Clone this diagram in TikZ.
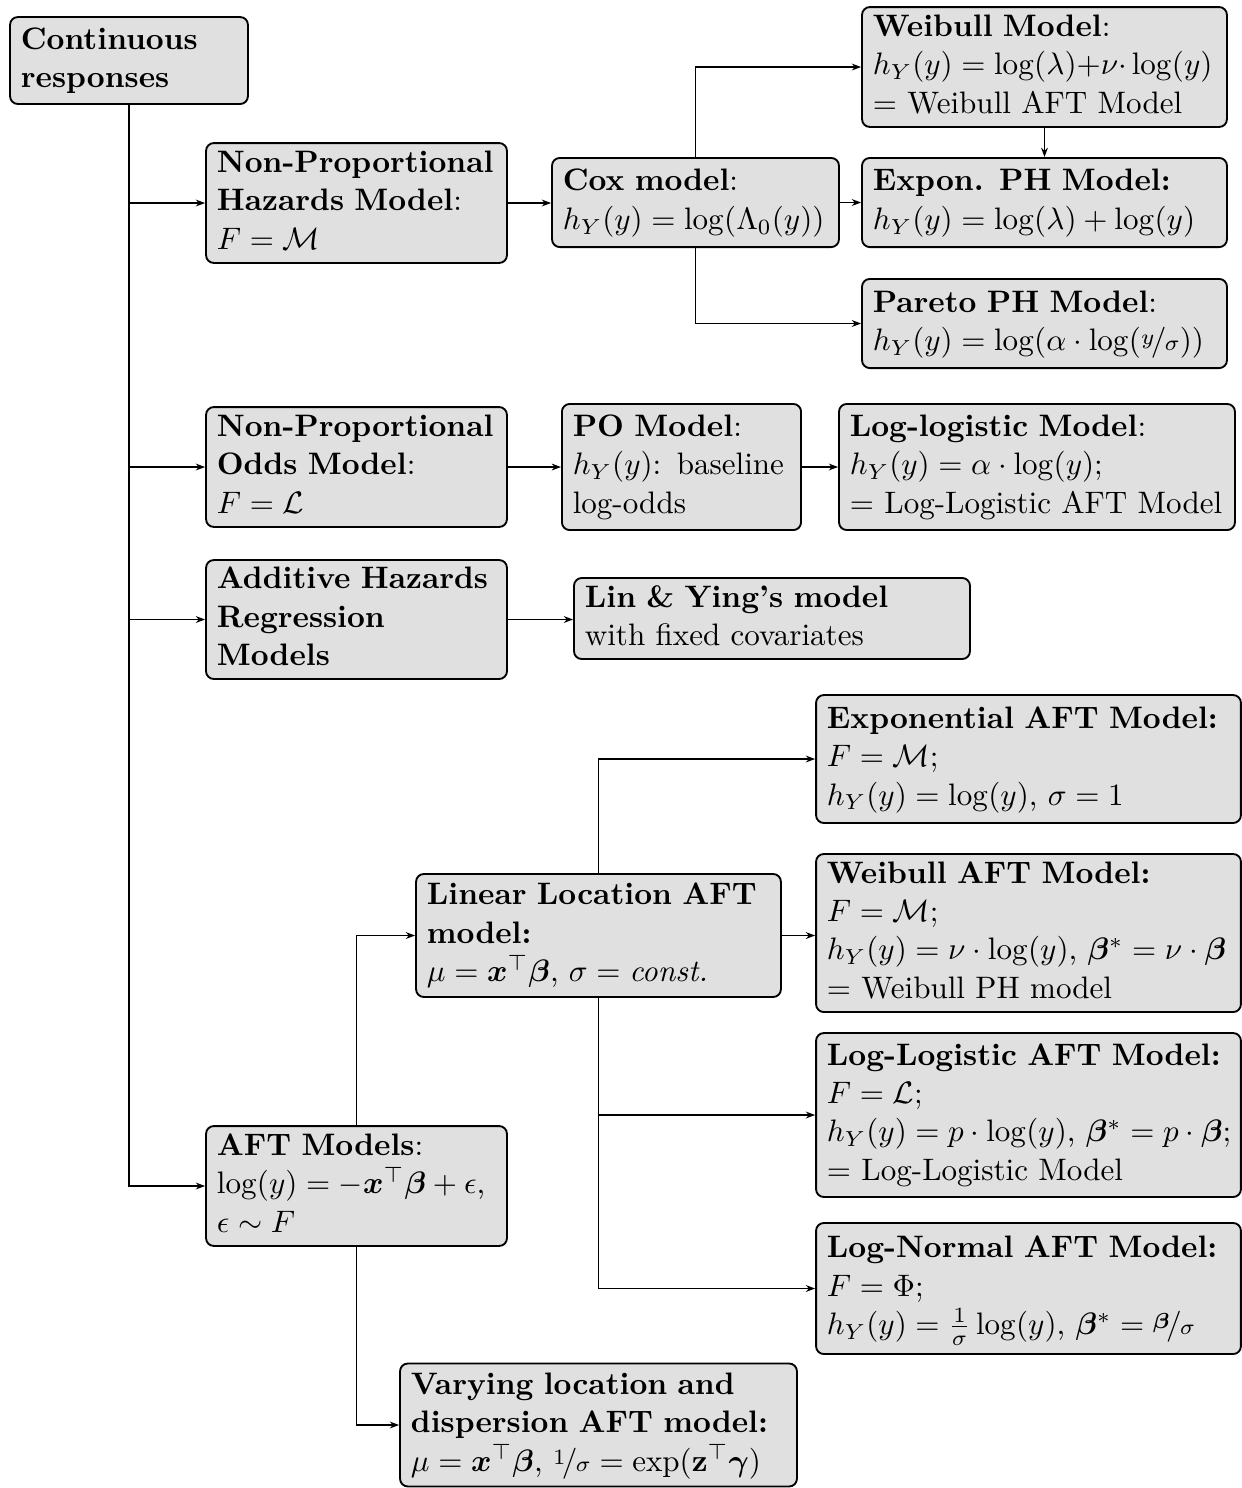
\documentclass[tikz,border=0pt]{standalone}
\usepackage{amsmath,bm,nicefrac}
\usetikzlibrary{arrows.meta}
\newcommand{\Ls}[1]{\begin{tabular}{@{}l@{}}#1\end{tabular}}
\renewcommand{\arraystretch}{1.03}
\begin{document}
\begin{tikzpicture}[x=0.322pt,y=-0.322pt,
  bx/.style={draw, line width=0.6pt, fill=black!12, rounded corners=2.5pt,
    inner xsep=3.5pt, inner ysep=0.5pt, align=left},
  arr/.style={-{Stealth[length=3pt,width=2.2pt]}, line width=0.45pt},
  ln/.style={line width=0.45pt}]
\useasboundingbox (0,0) rectangle (1242,1488);
\node[bx, text width=69.6pt, minimum height=28pt] (cont) at (129,60.5)
  {\Ls{\textbf{Continuous}\\\textbf{responses}}};
\node[bx, text width=89.9pt, minimum height=38.6pt] (nph) at (356.5,203)
  {\Ls{\textbf{Non-Proportional}\\\textbf{Hazards Model}:\\$F=\mathcal{M}$}};
\node[bx, text width=85.4pt, minimum height=28.7pt] (cox) at (695.5,202.5)
  {\Ls{\textbf{Cox model}:\\$h_Y(y)=\log(\Lambda_0(y))$}};
\node[bx, text width=110.5pt, minimum height=38.6pt] (weib) at (1044.5,67)
  {\Ls{\textbf{Weibull Model}:\\$h_Y(y)=\log(\lambda){+}\nu{\cdot}\log(y)$\\$=$ Weibull AFT Model}};
\node[bx, text width=110.5pt, minimum height=28.7pt] (expo) at (1044.5,202.5)
  {\Ls{\textbf{Expon. PH Model:}\\$h_Y(y)=\log(\lambda)+\log(y)$}};
\node[bx, text width=110.5pt, minimum height=28.7pt] (pare) at (1044.5,323.5)
  {\Ls{\textbf{Pareto PH Model}:\\$h_Y(y)=\log(\alpha\cdot\log(\nicefrac{y}{\sigma}))$}};
\node[bx, text width=89.9pt, minimum height=38.6pt] (npo) at (356.5,467)
  {\Ls{\textbf{Non-Proportional}\\\textbf{Odds Model}:\\$F=\mathcal{L}$}};
\node[bx, text width=70pt, minimum height=40.6pt] (po) at (681.5,467)
  {\Ls{\textbf{PO Model}:\\$h_Y(y)$: baseline\\log-odds}};
\node[bx, text width=120.5pt, minimum height=40.6pt] (ll) at (1037,467)
  {\Ls{\textbf{Log-logistic Model}:\\$h_Y(y)=\alpha\cdot\log(y)$;\\$=$ Log-Logistic AFT Model}};
\node[bx, text width=89.9pt, minimum height=38.3pt] (add) at (356.5,619.5)
  {\Ls{\textbf{Additive Hazards}\\\textbf{Regression}\\\textbf{Models}}};
\node[bx, text width=120.5pt, minimum height=26.1pt] (lin) at (772,618.5)
  {\Ls{\textbf{Lin \& Ying's model}\\with fixed covariates}};
\node[bx, text width=129.8pt, minimum height=41.2pt] (eaft) at (1028.5,759)
  {\Ls{\textbf{Exponential AFT Model:}\\$F=\mathcal{M}$;\\$h_Y(y)=\log(y)$, $\sigma=1$}};
\node[bx, text width=110.5pt, minimum height=39.6pt] (linloc) at (598.5,935.5)
  {\Ls{\textbf{Linear Location AFT}\\\textbf{model:}\\$\mu=\bm{x}^\top\bm{\beta}$, $\sigma=\textit{const.}$}};
\node[bx, text width=129.8pt, minimum height=50.9pt] (waft) at (1028.5,933)
  {\Ls{\textbf{Weibull AFT Model:}\\$F=\mathcal{M}$;\\$h_Y(y)=\nu\cdot\log(y)$, $\bm{\beta}^*=\nu\cdot\bm{\beta}$\\$=$ Weibull PH model}};
\node[bx, text width=129.8pt, minimum height=52.8pt] (llaft) at (1028.5,1115)
  {\Ls{\textbf{Log-Logistic AFT Model:}\\$F=\mathcal{L}$;\\$h_Y(y)=p\cdot\log(y)$, $\bm{\beta}^*=p\cdot\bm{\beta}$;\\$=$ Log-Logistic Model}};
\node[bx, text width=89.9pt, minimum height=38.6pt] (aft) at (356.5,1186)
  {\Ls{\textbf{AFT Models}:\\$\log(y)=-\bm{x}^\top\bm{\beta}+\epsilon$,\\$\epsilon\sim F$}};
\node[bx, text width=129.8pt, minimum height=42.2pt] (lnaft) at (1028.5,1288.5)
  {\Ls{\textbf{Log-Normal AFT Model:}\\$F=\Phi$;\\$h_Y(y)=\frac{1}{\sigma}\log(y)$, $\bm{\beta}^*=\nicefrac{\bm{\beta}}{\sigma}$}};
\node[bx, text width=120.8pt, minimum height=39.6pt] (vary) at (598.5,1425)
  {\Ls{\textbf{Varying location and}\\\textbf{dispersion AFT model:}\\$\mu=\bm{x}^\top\bm{\beta}$, $\nicefrac{1}{\sigma}=\exp(\mathbf{z}^\top\bm{\gamma})$}};
% connectors
\draw[arr] (cont.south) |- (aft.west);
\draw[arr] (cont.south |- nph.west) -- (nph.west);
\draw[arr] (cont.south |- npo.west) -- (npo.west);
\draw[arr] (cont.south |- add.west) -- (add.west);
\draw[arr] (nph.east) -- (nph.east -| cox.west);
\draw[arr] (cox.north) |- (weib.west);
\draw[arr] (cox.east) -- (expo.west);
\draw[arr] (cox.south) |- (pare.west);
\draw[arr] (weib.south) -- (expo.north);
\draw[arr] (npo.east) -- (npo.east -| po.west);
\draw[arr] (po.east) -- (ll.west);
\draw[arr] (add.east) -- (add.east -| lin.west);
\draw[arr] (aft.north) |- (linloc.west);
\draw[arr] (aft.south) |- (vary.west);
\draw[arr] (linloc.north) |- (eaft.west);
\draw[arr] (linloc.east) -- (linloc.east -| waft.west);
\draw[arr] (linloc.south) |- (lnaft.west);
\draw[arr] (linloc.south |- llaft.west) -- (llaft.west);
\end{tikzpicture}
\end{document}
